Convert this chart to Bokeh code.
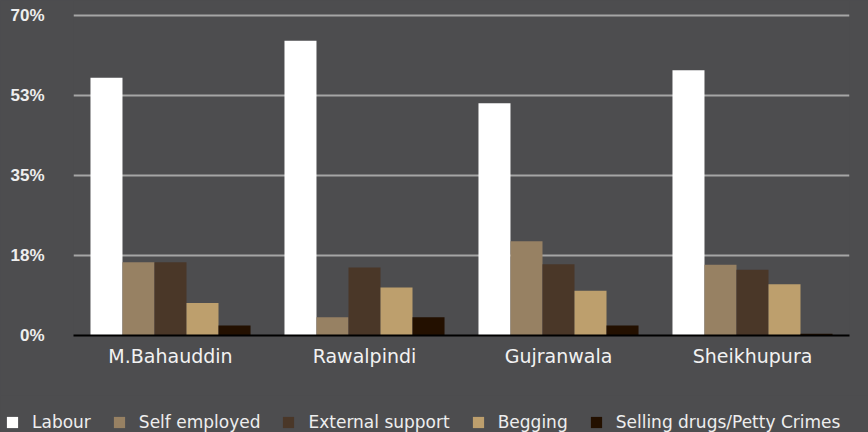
from bokeh.plotting import figure
from bokeh.models import FactorRange, Range1d, FixedTicker, Legend, LegendItem
from bokeh.layouts import column
from bokeh.transform import dodge
from bokeh.embed import file_html
from bokeh.resources import INLINE

districts = ["M.Bahauddin", "Rawalpindi", "Gujranwala", "Sheikhupura"]
series_names = ["Labour", "Self employed", "External support", "Begging", "Selling drugs/Petty Crimes"]
labour = [56.4, 64.5, 50.8, 58.0]
self_employed = [16.0, 4.0, 20.6, 15.5]
external_support = [16.0, 14.9, 15.6, 14.4]
begging = [7.1, 10.5, 9.8, 11.2]
selling_drugs = [2.2, 4.0, 2.2, 0.4]
colors = ["#ffffff", "#978163", "#4a3728", "#bd9f6d", "#231000"]
y_ticks = [0, 17.5, 35, 52.5, 70]
y_tick_labels = ["0%", "18%", "35%", "53%", "70%"]

BG = "#4d4d4f"

p = figure(width=868, height=395, x_range=FactorRange(*districts, range_padding=0),
           y_range=Range1d(0, 73.28), output_backend="svg", toolbar_location=None,
           min_border_left=73, min_border_right=19, min_border_top=0, min_border_bottom=60)
p.frame_align = False
p.background_fill_color = BG
p.border_fill_color = BG
p.outline_line_color = None

data = dict(district=districts)
all_series = [labour, self_employed, external_support, begging, selling_drugs]
for name, vals in zip(series_names, all_series):
    data[name] = vals

bw = 0.165
for i, (name, col) in enumerate(zip(series_names, colors)):
    p.vbar(x=dodge("district", (i - 2) * bw, range=p.x_range), top=name, width=bw,
           source=data, fill_color=col, line_color=None)

p.xgrid.grid_line_color = None
p.ygrid.grid_line_color = "#a6a6a6"
p.ygrid.grid_line_width = 2
p.yaxis.ticker = FixedTicker(ticks=y_ticks)
p.yaxis.major_label_overrides = {t: l for t, l in zip(y_ticks, y_tick_labels)}
p.yaxis.axis_line_color = None
p.yaxis.major_tick_line_color = None
p.yaxis.minor_tick_line_color = None
p.yaxis.major_tick_out = 0
p.yaxis.major_label_standoff = 29
p.yaxis.major_label_text_font = "Liberation Sans"
p.yaxis.major_label_text_font_style = "bold"
p.yaxis.major_label_text_font_size = "17px"
p.yaxis.major_label_text_color = "#eeeeee"

p.xaxis.axis_line_color = "#000000"
p.xaxis.axis_line_width = 2
p.xaxis.major_tick_line_color = None
p.xaxis.minor_tick_line_color = None
p.xaxis.major_tick_out = 0
p.xaxis.major_label_standoff = 9
p.xaxis.major_label_text_font = "DejaVu Sans"
p.xaxis.major_label_text_font_size = "19px"
p.xaxis.major_label_text_color = "#f2f2f2"

# legend strip: zero-width bars outside the visible y range, only the legend shows
lg = figure(width=868, height=37, x_range=FactorRange(*districts, range_padding=0),
            y_range=Range1d(1000, 1001), output_backend="svg", toolbar_location=None,
            x_axis_location=None, y_axis_location=None,
            min_border_left=0, min_border_right=0, min_border_top=0, min_border_bottom=0)
lg.frame_align = False
lg.background_fill_color = BG
lg.border_fill_color = BG
lg.outline_line_color = None
lg.xgrid.grid_line_color = None
lg.ygrid.grid_line_color = None
items = []
for i, (name, col) in enumerate(zip(series_names, colors)):
    r = lg.vbar(x="district", top=name, width=0, source=data,
                fill_color=col, line_color=None)
    items.append(LegendItem(label=name, renderers=[r]))

legend = Legend(items=items, orientation="horizontal", location=(5, 0),
                background_fill_alpha=0, border_line_color=None,
                label_text_color="#eeeeee", label_text_font="DejaVu Sans", label_text_font_size="17px",
                glyph_width=14, glyph_height=14, label_standoff=13, spacing=21,
                padding=0, margin=0)
lg.add_layout(legend)

layout = column(p, lg, spacing=0, styles={"background-color": BG})
open("out.html", "w").write(file_html(layout, INLINE))
